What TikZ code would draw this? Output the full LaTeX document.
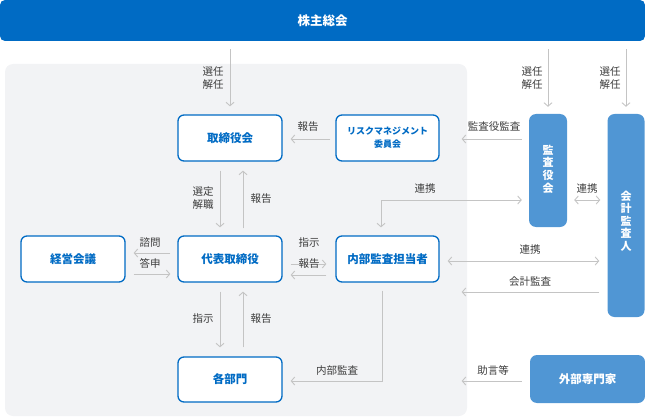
\documentclass[tikz,border=0pt]{standalone}
\usepackage{fontspec}
\setmainfont{Noto Sans CJK JP}
\usetikzlibrary{arrows.meta}
\definecolor{dblue}{RGB}{0,107,196}
\definecolor{mblue}{RGB}{80,150,212}
\definecolor{bggray}{RGB}{242,243,245}
\definecolor{linegray}{RGB}{196,196,196}
\definecolor{labgray}{RGB}{60,60,60}
\tikzset{
  wbox/.style={draw=dblue, line width=1.3pt, fill=white, rounded corners=6pt, inner sep=0pt,
    text=dblue, font=\bfseries\fontsize{11.5}{14}\selectfont, align=center},
  bbox/.style={fill=mblue, rounded corners=7pt, inner sep=0pt, text=white,
    font=\bfseries\fontsize{11}{12.6}\selectfont, align=center},
  arr/.style={draw=linegray, line width=0.9pt, -{Straight Barb[length=3.5pt,width=8pt]}},
  darr/.style={draw=linegray, line width=0.9pt, {Straight Barb[length=3.5pt,width=8pt]}-{Straight Barb[length=3.5pt,width=8pt]}},
  lab/.style={text=labgray, font=\fontsize{10.5}{13}\selectfont, align=center, inner sep=0pt}
}
\begin{document}
\begin{tikzpicture}[x=1pt,y=-1pt]
\useasboundingbox (0,0) rectangle (645,417);
% background
\fill[bggray, rounded corners=8pt] (5,64) rectangle (467,416);
% top bar
\node[fill=dblue, rounded corners=5pt, minimum width=645pt, minimum height=41pt, inner sep=0pt,
  text=white, font=\bfseries\fontsize{12.5}{14}\selectfont] (bar) at (322.5,20.5) {株主総会};
% boxes
\node[wbox, minimum width=104pt, minimum height=46pt] (tor) at (230,138) {取締役会};
\node[wbox, minimum width=103pt, minimum height=46pt, font=\bfseries\fontsize{9}{13}\selectfont] (risk) at (387.5,138) {リスクマネジメント\\委員会};
\node[wbox, minimum width=104pt, minimum height=46pt] (ceo) at (230,259) {代表取締役};
\node[wbox, minimum width=103pt, minimum height=46pt] (audit) at (387.5,259) {内部監査担当者};
\node[wbox, minimum width=104pt, minimum height=46pt] (keiei) at (73,259) {経営会議};
\node[wbox, minimum width=104pt, minimum height=45pt] (bumon) at (230,379.5) {各部門};
\node[bbox, minimum width=38pt, minimum height=113pt] (kansa) at (548,170.5) {};
\node[bbox, inner sep=0pt] at (548,169) {監\\査\\役\\会};
\node[bbox, minimum width=37pt, minimum height=203pt] (kaikei) at (626,215.5) {};
\node[bbox, inner sep=0pt] at (626,221) {会\\計\\監\\査\\人};
\node[bbox, minimum width=115pt, minimum height=48pt, font=\bfseries\fontsize{11.5}{14}\selectfont] (gaibu) at (587.5,379) {外部専門家};
% bar to boxes
\draw[arr] ([yshift=-8pt]bar.south -| tor.north) -- ([yshift=8pt]tor.north);
\node[lab] at (213,78.5) {選任\\解任};
\draw[arr] ([yshift=-8pt]bar.south -| kansa.north) -- ([yshift=7pt]kansa.north);
\node[lab] at (532,78.5) {選任\\解任};
\draw[arr] ([yshift=-8pt]bar.south -| kaikei.north) -- ([yshift=7pt]kaikei.north);
\node[lab] at (610,78.5) {選任\\解任};
% risk -> tor
\draw[arr] ([xshift=-5pt,yshift=-1pt]risk.west) -- ([xshift=8pt,yshift=-1pt]tor.east);
\node[lab] at (308,127) {報告};
% kansa -> risk
\draw[arr] ([xshift=-7pt]kansa.west |- risk.east) ++(0,1) -- ([xshift=22pt,yshift=-1pt]risk.east);
\node[lab] at (494,127) {監査役監査};
% tor <-> ceo
\draw[arr] ([xshift=-10pt,yshift=-9pt]tor.south) -- ([xshift=-10pt,yshift=8pt]ceo.north);
\node[lab] at (203,198.5) {選定\\解職};
\draw[arr] ([xshift=13pt,yshift=7pt]ceo.north) -- ([xshift=13pt,yshift=-9pt]tor.south);
\node[lab] at (261,199) {報告};
% ceo <-> audit
\draw[arr] ([xshift=8pt,yshift=-5pt]ceo.east) -- ([xshift=-9pt,yshift=-5pt]audit.west);
\node[lab] at (309,243) {指示};
\draw[arr] ([xshift=-9pt,yshift=-16pt]audit.west) -- ([xshift=8pt,yshift=-16pt]ceo.east);
\node[lab] at (309,264) {報告};
% ceo <-> keiei
\draw[arr] ([xshift=-7pt,yshift=6pt]ceo.west) -- ([xshift=8pt,yshift=6pt]keiei.east);
\node[lab] at (150,243) {諮問};
\draw[arr] ([xshift=8pt,yshift=-15pt]keiei.east) -- ([xshift=-7pt,yshift=-15pt]ceo.west);
\node[lab] at (150,263) {答申};
% kansa <-> audit
\coordinate (kc) at ([xshift=-6.5pt]audit.north);
\draw[darr] ([xshift=-7pt]kansa.west |- 0,200) -| ([yshift=8pt]kc);
\node[lab] at (425,189) {連携};
% kansa <-> kaikei
\draw[darr] ([xshift=7pt]kansa.east |- 0,200) -- ([xshift=-7pt]kaikei.west |- 0,200);
\node[lab] at (587,189) {連携};
% audit <-> kaikei
\draw[darr] ([xshift=8pt,yshift=-2pt]audit.east) -- ([xshift=-8pt]kaikei.west |- 0,261);
\node[lab] at (530,250) {連携};
% kaikei -> 会計監査
\draw[arr] ([xshift=-8pt]kaikei.west |- 0,292) -- ([xshift=22pt]audit.east |- 0,292);
\node[lab] at (530,282) {会計監査};
% ceo <-> bumon
\draw[arr] ([xshift=-10pt,yshift=-9pt]ceo.south) -- ([xshift=-10pt,yshift=9pt]bumon.north);
\node[lab] at (203,319) {指示};
\draw[arr] ([xshift=13pt,yshift=9pt]bumon.north) -- ([xshift=13pt,yshift=-9pt]ceo.south);
\node[lab] at (261,319) {報告};
% audit -> bumon
\draw[arr] ([xshift=-5.5pt,yshift=-8pt]audit.south) |- ([xshift=8pt,yshift=-1.5pt]bumon.east);
\node[lab] at (337,371) {内部監査};
% gaibu -> left
\draw[arr] ([xshift=-8pt,yshift=-2pt]gaibu.west) -- ([xshift=22pt,yshift=-2pt]audit.east |- gaibu.west);
\node[lab] at (493,370) {助言等};
\end{tikzpicture}
\end{document}
